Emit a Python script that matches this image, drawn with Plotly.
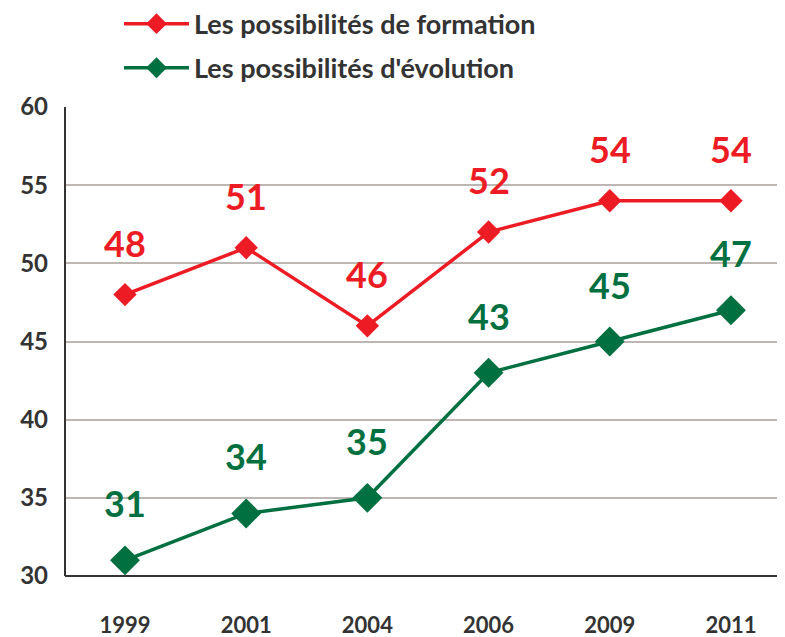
import plotly.graph_objects as go

years = ["1999", "2001", "2004", "2006", "2009", "2011"]
formation = [48, 51, 46, 52, 54, 54]
evolution = [31, 34, 35, 43, 45, 47]
y_ticks = [30, 35, 40, 45, 50, 55, 60]

RED = "#ED1C24"
GREEN = "#007041"
FONT = "Lato, sans-serif"
idx = list(range(len(years)))

fig = go.Figure()
fig.add_trace(go.Scatter(
    x=idx, y=formation, mode="lines+markers", name="Les possibilités de formation",
    legendgroup="a",
    line=dict(color=RED, width=3.5),
    marker=dict(symbol="diamond", size=18, color=RED),
))
fig.add_trace(go.Scatter(
    x=idx, y=evolution, mode="lines+markers", name="Les possibilités d'évolution",
    legendgroup="b",
    line=dict(color=GREEN, width=3.5),
    marker=dict(symbol="diamond", size=23, color=GREEN),
))

for i, v in zip(idx, formation):
    fig.add_annotation(x=i, y=v, text=str(v), showarrow=False, yshift=52,
                       font=dict(family=FONT, size=36, color=RED, weight="bold"))
for i, v in zip(idx, evolution):
    fig.add_annotation(x=i, y=v, text=str(v), showarrow=False, yshift=57,
                       font=dict(family=FONT, size=36, color=GREEN, weight="bold"))

fig.update_layout(
    width=777, height=629,
    margin=dict(l=57, r=0, t=99, b=61, autoexpand=False),
    paper_bgcolor="white", plot_bgcolor="white",
    showlegend=True,
    legend=dict(x=0.075, y=1.229, xanchor="left", yanchor="top",
                font=dict(family=FONT, size=27, color="#333333", weight="bold"),
                bgcolor="rgba(0,0,0,0)", itemwidth=65, tracegroupgap=6),
    xaxis=dict(tickmode="array", tickvals=idx, ticktext=years,
               range=[-0.495, 5.446], showgrid=False, zeroline=False,
               showline=False, ticks="", ticklabelstandoff=34,
               tickfont=dict(family=FONT, size=22, color="#333333", weight="bold")),
    yaxis=dict(range=[30, 60], tickvals=y_ticks, showgrid=True,
               gridcolor="#BDB6B3", gridwidth=2, zeroline=False,
               showline=False, ticks="", ticklabelstandoff=16,
               tickfont=dict(family=FONT, size=24, color="#333333", weight="bold")),
)
fig.add_shape(type="line", xref="paper", yref="paper", x0=0, x1=0, y0=0, y1=1,
              line=dict(color="#333333", width=2))
fig.add_shape(type="line", xref="paper", yref="paper", x0=0, x1=1, y0=0, y1=0,
              line=dict(color="#333333", width=2))

fig.write_html("out.html")
